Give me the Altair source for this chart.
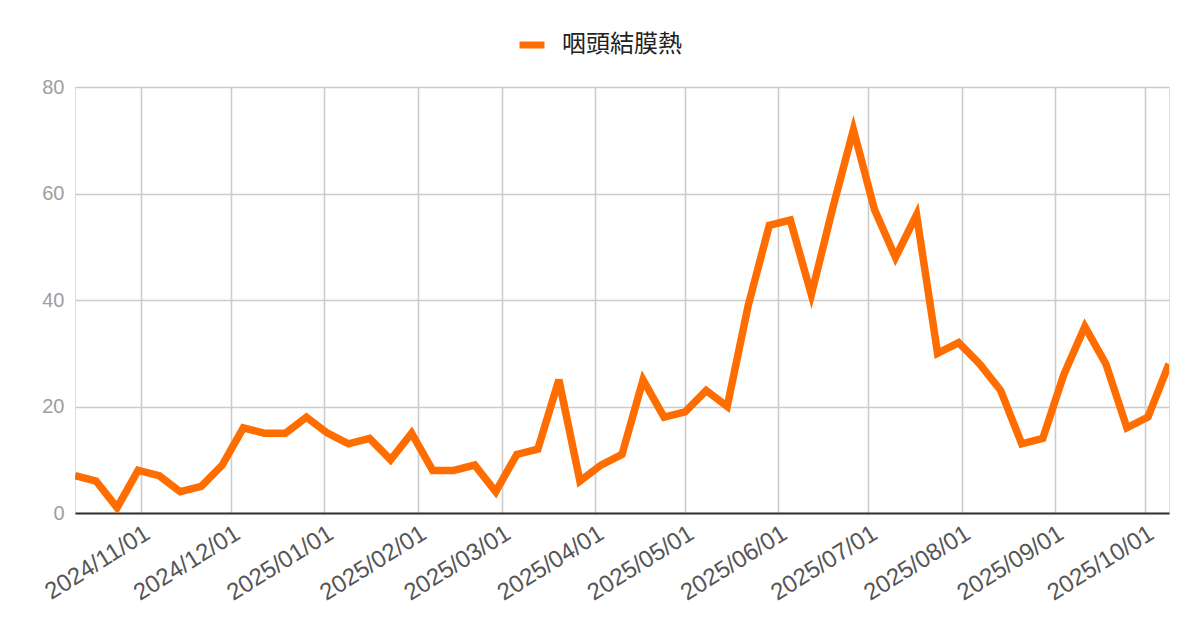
import altair as alt
import pandas as pd

series_name = "咽頭結膜熱"

dates = [
    "2024-10-10", "2024-10-17", "2024-10-24", "2024-10-31",
    "2024-11-07", "2024-11-14", "2024-11-21", "2024-11-28",
    "2024-12-05", "2024-12-12", "2024-12-19", "2024-12-26",
    "2025-01-02", "2025-01-09", "2025-01-16", "2025-01-23", "2025-01-30",
    "2025-02-06", "2025-02-13", "2025-02-20", "2025-02-27",
    "2025-03-06", "2025-03-13", "2025-03-20", "2025-03-27",
    "2025-04-03", "2025-04-10", "2025-04-17", "2025-04-24",
    "2025-05-01", "2025-05-08", "2025-05-15", "2025-05-22", "2025-05-29",
    "2025-06-05", "2025-06-12", "2025-06-19", "2025-06-26",
    "2025-07-03", "2025-07-10", "2025-07-17", "2025-07-24", "2025-07-31",
    "2025-08-07", "2025-08-14", "2025-08-21", "2025-08-28",
    "2025-09-04", "2025-09-11", "2025-09-18", "2025-09-25",
    "2025-10-02", "2025-10-09",
]

values = [
    7, 6, 1, 8,
    7, 4, 5, 9,
    16, 15, 15, 18,
    15, 13, 14, 10, 15,
    8, 8, 9, 4,
    11, 12, 25, 6,
    9, 11, 25, 18,
    19, 23, 20, 39, 54,
    55, 41, 57, 72,
    57, 48, 56, 30, 32,
    28, 23, 13, 14,
    26, 35, 28, 16,
    18, 28,
]

y_ticks = [0, 20, 40, 60, 80]
month_ticks = [
    (2024, 11), (2024, 12), (2025, 1), (2025, 2), (2025, 3), (2025, 4),
    (2025, 5), (2025, 6), (2025, 7), (2025, 8), (2025, 9), (2025, 10),
]

df = pd.DataFrame({"date": dates, "value": values, "series": series_name})

x_axis = alt.Axis(
    values=[alt.DateTime(year=y, month=m, date=1, utc=True) for y, m in month_ticks],
    format="%Y/%m/%d",
    labelAngle=-32,
    labelAlign="right",
    labelBaseline="top",
    labelPadding=8,
    labelFontSize=24,
    labelFont="Liberation Sans",
    labelColor="#555555",
    grid=True,
    gridColor="#cccccc",
    gridWidth=1.6,
    domain=True,
    domainColor="#333333",
    domainWidth=2.2,
    ticks=False,
    title=None,
    labelOverlap=False,
)

y_axis = alt.Axis(
    values=y_ticks,
    grid=True,
    gridColor="#cccccc",
    gridWidth=1.6,
    domain=False,
    ticks=False,
    labelFontSize=20,
    labelFont="Liberation Sans",
    labelColor="#9e9e9e",
    labelPadding=11,
    title=None,
)

chart = (
    alt.Chart(df)
    .mark_line(strokeWidth=7.5, strokeJoin="miter", strokeCap="butt", clip=True)
    .encode(
        x=alt.X(
            "utcyearmonthdate(date):T",
            scale=alt.Scale(
                domain=[
                    alt.DateTime(year=2024, month=10, date=10, utc=True),
                    alt.DateTime(year=2025, month=10, date=9, utc=True),
                ],
                nice=False,
            ),
            axis=x_axis,
        ),
        y=alt.Y("value:Q", scale=alt.Scale(domain=[0, 80], nice=False), axis=y_axis),
        color=alt.Color(
            "series:N",
            scale=alt.Scale(domain=[series_name], range=["#ff6d01"]),
            legend=alt.Legend(
                title=None,
                orient="none",
                legendX=441,
                legendY=-58,
                symbolType="stroke",
                symbolStrokeWidth=7,
                symbolSize=625,
                labelFontSize=24,
                labelFont="Noto Sans CJK JP",
                labelColor="#222222",
                labelOffset=14,
            ),
        ),
    )
    .properties(
        width=1094,
        height=426,
        autosize=alt.AutoSizeParams(type="none"),
        padding={"left": 67, "top": 79, "right": 20, "bottom": 100},
    )
    .configure_view(stroke=None)
    .configure(background="white")
)

chart.save("out.html", embed_options={"renderer": "svg", "actions": False})
